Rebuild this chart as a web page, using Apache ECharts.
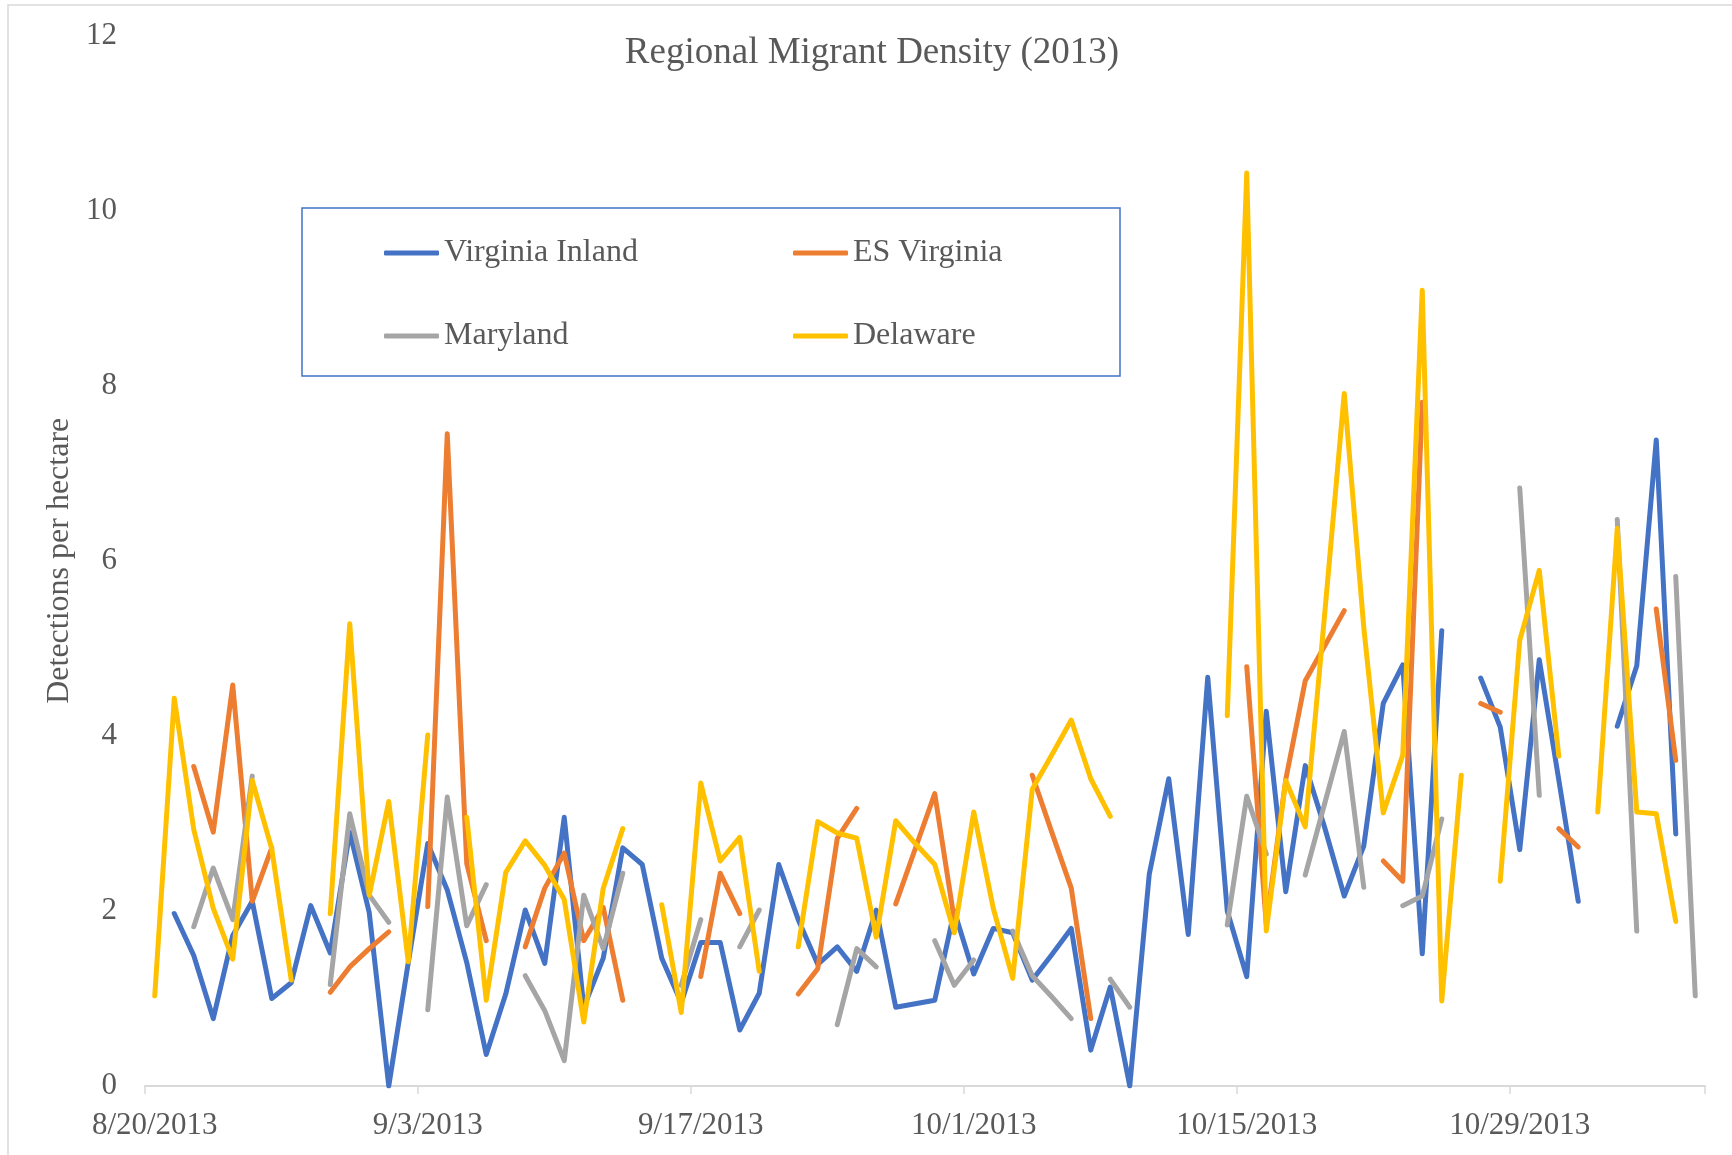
<!DOCTYPE html>
<html>
<head>
<meta charset="utf-8">
<title>Regional Migrant Density (2013)</title>
<script src="https://cdn.jsdelivr.net/npm/echarts@6/dist/echarts.min.js"></script>
<style>
  html, body { margin: 0; padding: 0; background: #fff; }
  #chart { width: 1732px; height: 1155px; }
</style>
</head>
<body>
<div id="chart"></div>
<script>
  // dates, one per day (8/20/2013 - 11/7/2013)
  var dates = [
    "8/20/2013", "8/21/2013", "8/22/2013", "8/23/2013", "8/24/2013", "8/25/2013", "8/26/2013",
    "8/27/2013", "8/28/2013", "8/29/2013", "8/30/2013", "8/31/2013", "9/1/2013", "9/2/2013",
    "9/3/2013", "9/4/2013", "9/5/2013", "9/6/2013", "9/7/2013", "9/8/2013", "9/9/2013",
    "9/10/2013", "9/11/2013", "9/12/2013", "9/13/2013", "9/14/2013", "9/15/2013", "9/16/2013",
    "9/17/2013", "9/18/2013", "9/19/2013", "9/20/2013", "9/21/2013", "9/22/2013", "9/23/2013",
    "9/24/2013", "9/25/2013", "9/26/2013", "9/27/2013", "9/28/2013", "9/29/2013", "9/30/2013",
    "10/1/2013", "10/2/2013", "10/3/2013", "10/4/2013", "10/5/2013", "10/6/2013", "10/7/2013",
    "10/8/2013", "10/9/2013", "10/10/2013", "10/11/2013", "10/12/2013", "10/13/2013", "10/14/2013",
    "10/15/2013", "10/16/2013", "10/17/2013", "10/18/2013", "10/19/2013", "10/20/2013", "10/21/2013",
    "10/22/2013", "10/23/2013", "10/24/2013", "10/25/2013", "10/26/2013", "10/27/2013", "10/28/2013",
    "10/29/2013", "10/30/2013", "10/31/2013", "11/1/2013", "11/2/2013", "11/3/2013", "11/4/2013",
    "11/5/2013", "11/6/2013", "11/7/2013"
  ];

  var virginiaInland = [
    null, 1.97, 1.49, 0.77, 1.72, 2.11, 1.00, 1.18, 2.06, 1.52,
    2.90, 1.98, 0.00, 1.41, 2.77, 2.24, 1.41, 0.36, 1.05, 2.01,
    1.40, 3.07, 0.90, 1.46, 2.72, 2.53, 1.46, 0.95, 1.64, 1.64,
    0.64, 1.06, 2.53, 1.90, 1.39, 1.59, 1.31, 2.01, 0.90, 0.94,
    0.98, 2.00, 1.28, 1.80, 1.75, 1.21, 1.50, 1.80, 0.41, 1.13,
    0.00, 2.42, 3.51, 1.73, 4.67, 2.00, 1.25, 4.28, 2.22, 3.66,
    2.95, 2.17, 2.74, 4.37, 4.81, 1.51, 5.20, null, 4.66, 4.10,
    2.70, 4.87, 3.50, 2.11, null, 4.11, 4.80, 7.38, 2.88, null
  ];

  var esVirginia = [
    null, null, 3.65, 2.90, 4.58, 2.11, 2.72, null, null, 1.07,
    1.36, 1.57, 1.76, null, 2.05, 7.45, 2.54, 1.66, null, 1.59,
    2.26, 2.66, 1.66, 2.04, 0.98, null, null, null, 1.25, 2.43,
    1.97, null, null, 1.05, 1.34, 2.83, 3.17, null, 2.08, 2.71,
    3.34, 1.90, null, null, null, 3.55, 2.90, 2.26, 0.77, null,
    null, null, null, null, null, null, 4.79, 1.85, 3.50, 4.63,
    5.03, 5.43, null, 2.57, 2.34, 7.81, null, null, 4.37, 4.27,
    null, null, 2.94, 2.73, null, null, null, 5.45, 3.72, null
  ];

  var maryland = [
    null, null, 1.82, 2.49, 1.90, 3.54, null, null, null, 1.16,
    3.11, 2.18, 1.87, null, 0.87, 3.30, 1.83, 2.30, null, 1.26,
    0.86, 0.29, 2.18, 1.57, 2.43, null, null, 1.15, 1.90, null,
    1.59, 2.01, null, null, null, 0.70, 1.57, 1.36, null, null,
    1.66, 1.15, 1.44, null, 1.77, 1.26, 1.02, 0.77, null, 1.22,
    0.90, null, null, null, null, 1.84, 3.31, 2.65, null, 2.41,
    3.23, 4.05, 2.27, null, 2.06, 2.17, 3.05, null, null, null,
    6.83, 3.32, null, null, null, 6.47, 1.77, null, 5.82, 1.03
  ];

  var delaware = [
    1.03, 4.43, 2.93, 2.03, 1.45, 3.49, 2.71, 1.21, null, 1.97,
    5.28, 2.18, 3.25, 1.42, 4.01, null, 3.07, 0.98, 2.44, 2.80,
    2.52, 2.13, 0.73, 2.26, 2.94, null, 2.07, 0.84, 3.46, 2.57,
    2.84, 1.31, null, 1.59, 3.02, 2.89, 2.83, 1.70, 3.03, 2.77,
    2.53, 1.75, 3.13, 2.03, 1.23, 3.39, 3.78, 4.18, 3.51, 3.08,
    null, null, null, null, null, 4.23, 10.43, 1.77, 3.49, 2.96,
    5.40, 7.91, 5.24, 3.12, 3.78, 9.09, 0.97, 3.55, null, 2.34,
    5.09, 5.89, 3.77, null, 3.13, 6.37, 3.13, 3.11, 1.88, null
  ];

  var seriesNames = ["Virginia Inland", "ES Virginia", "Maryland", "Delaware"];
  var seriesColors = ["#4472C4", "#ED7D31", "#A5A5A5", "#FFC000"];
  var seriesData = [virginiaInland, esVirginia, maryland, delaware];

  var font = "'Liberation Serif', 'Times New Roman', serif";
  var textColor = "#595959";

  var chart = echarts.init(document.getElementById("chart"));

  // legend items sit in a 2 x 2 box
  var legendPos = [
    { left: 384, top: 235 },
    { left: 793, top: 235 },
    { left: 384, top: 318 },
    { left: 793, top: 318 }
  ];

  var option = {
    animation: false,
    backgroundColor: "#fff",
    title: {
      text: "Regional Migrant Density (2013)",
      left: 867,
      top: 30,
      textAlign: "center",
      textStyle: {
        fontFamily: font,
        fontSize: 37,
        fontWeight: "normal",
        color: textColor
      }
    },
    legend: seriesNames.map(function (name, i) {
      return {
        data: [name],
        left: legendPos[i].left,
        top: legendPos[i].top,
        padding: 0,
        icon: "roundRect",
        itemWidth: 55,
        itemHeight: 5,
        textStyle: {
          fontFamily: font,
          fontSize: 32,
          lineHeight: 36,
          color: textColor
        }
      };
    }),
    graphic: [
      {
        type: "rect",
        shape: { x: 8, y: 5, width: 1740, height: 1200 },
        style: { fill: "none", stroke: "#D9D9D9", lineWidth: 1.5 },
        silent: true
      },
      {
        type: "rect",
        shape: { x: 302, y: 208, width: 818, height: 168 },
        style: { fill: "none", stroke: "#4472C4", lineWidth: 1.5 },
        silent: true
      }
    ],
    grid: {
      left: 145,
      right: 27,
      top: 35.5,
      bottom: 69,
      containLabel: false
    },
    xAxis: {
      type: "category",
      data: dates,
      boundaryGap: true,
      axisLine: {
        lineStyle: { color: "#D9D9D9", width: 2 }
      },
      axisTick: {
        show: true,
        interval: 13,
        length: 8,
        lineStyle: { color: "#D9D9D9", width: 1.5 }
      },
      axisLabel: {
        interval: 13,
        margin: 24,
        fontFamily: font,
        fontSize: 31,
        color: textColor
      },
      splitLine: { show: false }
    },
    yAxis: {
      type: "value",
      min: 0,
      max: 12,
      interval: 2,
      name: "Detections per hectare",
      nameLocation: "middle",
      nameGap: 68,
      nameTextStyle: {
        fontFamily: font,
        fontSize: 32,
        color: textColor
      },
      axisLine: { show: false },
      axisTick: { show: false },
      splitLine: { show: false },
      axisLabel: {
        margin: 28,
        fontFamily: font,
        fontSize: 31,
        color: textColor
      }
    },
    series: seriesNames.map(function (name, i) {
      return {
        name: name,
        type: "line",
        data: seriesData[i],
        showSymbol: false,
        symbol: "none",
        connectNulls: false,
        color: seriesColors[i],
        lineStyle: {
          color: seriesColors[i],
          width: 5,
          cap: "round",
          join: "round"
        }
      };
    })
  };

  chart.setOption(option);
  window.addEventListener("resize", function () {
    chart.resize();
  });
</script>
</body>
</html>
